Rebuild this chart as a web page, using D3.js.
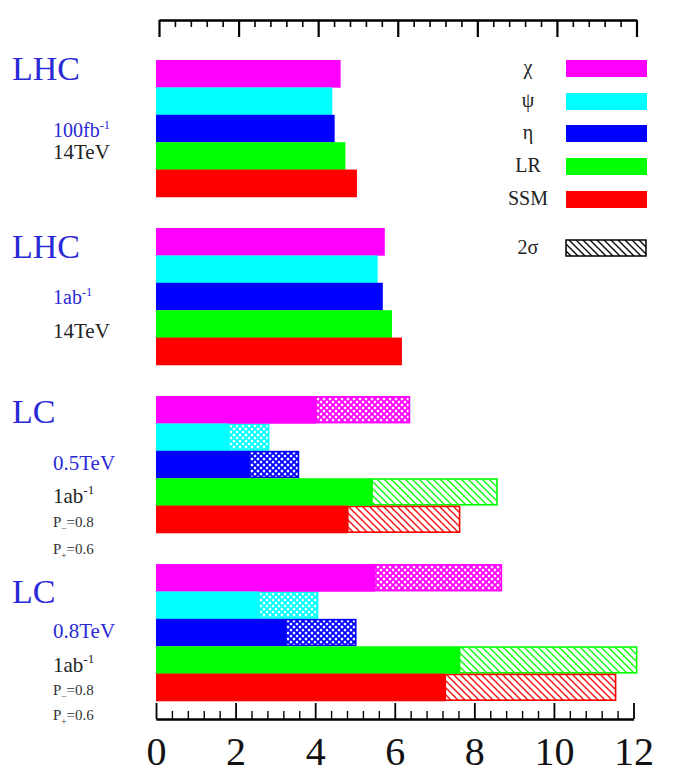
<!DOCTYPE html>
<html>
<head>
<meta charset="utf-8">
<script src="https://cdn.jsdelivr.net/npm/d3@7"></script>
<style>
  body { margin: 0; background: #fff; }
</style>
</head>
<body>
<div id="chart"></div>
<script>
// models and colours
var models = ['χ', 'ψ', 'η', 'LR', 'SSM'];
var colors = ['#ff00ff', '#00ffff', '#0000ff', '#00ff00', '#ff0000'];
var groups = ['LHC 100fb-1', 'LHC 1ab-1', 'LC 0.5TeV', 'LC 0.8TeV'];

// reach (TeV), solid bars
var lhc100 = [4.64, 4.43, 4.49, 4.76, 5.05];
var lhc1ab = [5.75, 5.57, 5.70, 5.93, 6.18];
var lc500 = [4.02, 1.82, 2.34, 5.43, 4.82];
var lc800 = [5.50, 2.59, 3.26, 7.63, 7.27];
// 2 sigma reach, hatched part
var lc500sig = [6.39, 2.85, 3.60, 8.59, 7.65];
var lc800sig = [8.70, 4.08, 5.04, 12.10, 11.57];

var solid = [lhc100, lhc1ab, lc500, lc800];
var hatched = [null, null, lc500sig, lc800sig];

var majorTicks = [0, 2, 4, 6, 8, 10, 12];

var serifFont = '"Liberation Serif"';
var width = 687, height = 778;
var svg = d3.select('#chart').append('svg')
  .attr('width', width)
  .attr('height', height)
  .style('font-family', serifFont);

var x = d3.scaleLinear().domain([0, 12]).range([156, 633.5]);
var yGroup = d3.scaleBand().domain(d3.range(groups.length))
  .range([60, 701]).paddingInner(0.185).paddingOuter(0);
var yBar = d3.scaleBand().domain(d3.range(models.length))
  .range([0, yGroup.bandwidth()]);

var minorTicks = d3.range(0, 12.001, 0.4).filter(function(v) {
  return Math.abs(v / 2 - Math.round(v / 2)) > 1e-6;
});

// patterns
var defs = svg.append('defs');
function crossPattern(id, col) {
  var p = defs.append('pattern').attr('id', id)
    .attr('patternUnits', 'userSpaceOnUse').attr('width', 6).attr('height', 6);
  p.append('rect').attr('width', 6).attr('height', 6).attr('fill', '#fff');
  p.append('path').attr('d', 'M0,0L6,6M6,0L0,6M-1,5L1,7M5,-1L7,1M-1,1L1,-1M5,7L7,5')
    .attr('stroke', col).attr('stroke-width', 1.9);
}
function diagPattern(id, col) {
  var p = defs.append('pattern').attr('id', id)
    .attr('patternUnits', 'userSpaceOnUse').attr('width', 7).attr('height', 7);
  p.append('rect').attr('width', 7).attr('height', 7).attr('fill', '#fff');
  p.append('path').attr('d', 'M-1,-1L8,8M-1,6L1,8M6,-1L8,1')
    .attr('stroke', col).attr('stroke-width', 1.3);
}
colors.forEach(function(c, i) {
  if (i < 3) crossPattern('hatch' + i, c);
  else diagPattern('hatch' + i, c);
});
diagPattern('hatchLegend', '#000');

// bars
groups.forEach(function(g, gi) {
  var layer = svg.append('g').attr('transform', 'translate(0,' + yGroup(gi) + ')');
  if (hatched[gi]) {
    layer.selectAll('rect.sig').data(hatched[gi])
      .enter().append('rect')
      .attr('class', 'sig')
      .attr('x', function(d, i) { return x(solid[gi][i]); })
      .attr('y', function(d, i) { return yBar(i) + 0.8; })
      .attr('width', function(d, i) { return x(d) - x(solid[gi][i]) - 0.8; })
      .attr('height', yBar.bandwidth() - 1.6)
      .attr('fill', function(d, i) { return 'url(#hatch' + i + ')'; })
      .attr('stroke', function(d, i) { return colors[i]; })
      .attr('stroke-width', 1.6);
  }
  layer.selectAll('rect.solid').data(solid[gi])
    .enter().append('rect')
    .attr('class', 'solid')
    .attr('x', x(0))
    .attr('y', function(d, i) { return yBar(i); })
    .attr('width', function(d) { return x(d) - x(0); })
    .attr('height', yBar.bandwidth() + 0.3)
    .attr('fill', function(d, i) { return colors[i]; });
});

// top axis (ticks pointing down)
function styleAxis(g, w) {
  g.select('.domain').attr('stroke-width', 2.2);
  g.selectAll('.tick line').attr('stroke-width', w);
}
var topAxis = svg.append('g').attr('transform', 'translate(3,20)');
topAxis.append('g')
  .call(d3.axisBottom(x).tickValues(minorTicks).tickSize(7).tickSizeOuter(0).tickFormat(''))
  .call(styleAxis, 1.6);
topAxis.append('g')
  .call(d3.axisBottom(x).tickValues(majorTicks).tickSize(17).tickSizeOuter(0).tickFormat(''))
  .call(styleAxis, 2.2);

// bottom axis (ticks pointing up)
var botAxis = svg.append('g').attr('transform', 'translate(0,719)');
botAxis.append('g')
  .call(d3.axisTop(x).tickValues(minorTicks).tickSize(8).tickSizeOuter(0).tickFormat(''))
  .call(styleAxis, 1.4);
botAxis.append('g')
  .call(d3.axisTop(x).tickValues(majorTicks).tickSize(16).tickSizeOuter(0).tickFormat(''))
  .call(styleAxis, 1.8);
botAxis.append('g')
  .call(d3.axisBottom(x).tickValues(majorTicks).tickSize(0).tickPadding(17.5).tickFormat(d3.format('d')))
  .call(function(g) {
    g.attr('font-family', serifFont);
    g.select('.domain').remove();
    g.selectAll('text').attr('font-size', 40).attr('fill', '#111')
      .style('font-family', serifFont);
  });

// group labels
var blue = '#2a2ad6';
function label(parts, xPos, yPos, size, col) {
  var t = svg.append('text').attr('x', xPos).attr('y', yPos)
    .attr('font-size', size).attr('fill', col)
    .style('font-family', serifFont);
  parts.forEach(function(p) {
    var s = t.append('tspan').text(p[0]);
    if (p[1] === 'sup') s.attr('font-size', size * 0.62).attr('dy', -size * 0.42);
    if (p[1] === 'sub') s.attr('font-size', size * 0.62).attr('dy', size * 0.3);
    if (p[1] === 'back') s.attr('dy', -size * 0.3);
  });
}
var g0 = yGroup(0), g1 = yGroup(1), g2 = yGroup(2), g3 = yGroup(3);
label([['LHC']], 12, g0 + 20, 34, blue);
label([['100fb'], ['-1', 'sup']], 53, g0 + 77, 20, blue);
label([['14TeV']], 53, g0 + 99, 21, '#222');

label([['LHC']], 12, g1 + 30, 34, blue);
label([['1ab'], ['-1', 'sup']], 53, g1 + 76, 20, blue);
label([['14TeV']], 53, g1 + 110, 21, '#222');

label([['LC']], 12, g2 + 27, 34, blue);
label([['0.5TeV']], 53, g2 + 74, 21, blue);
label([['1ab'], ['-1', 'sup']], 53, g2 + 107, 21, '#222');
label([['P'], ['−', 'sub'], ['=0.8', 'back']], 53, g2 + 131, 15, '#333');
label([['P'], ['+', 'sub'], ['=0.6', 'back']], 53, g2 + 158, 15, '#333');

label([['LC']], 12, g3 + 39, 34, blue);
label([['0.8TeV']], 53, g3 + 74, 21, blue);
label([['1ab'], ['-1', 'sup']], 53, g3 + 108, 21, '#222');
label([['P'], ['−', 'sub'], ['=0.8', 'back']], 53, g3 + 131, 15, '#333');
label([['P'], ['+', 'sub'], ['=0.6', 'back']], 53, g3 + 156, 15, '#333');

// legend
var legendLabels = models.concat(['2σ']);
var legendY = d3.scaleOrdinal().domain(d3.range(6)).range([60, 93, 125, 158, 191, 240]);
var legend = svg.append('g');
legend.selectAll('rect').data(legendLabels)
  .enter().append('rect')
  .attr('x', 566)
  .attr('y', function(d, i) { return legendY(i); })
  .attr('width', function(d, i) { return i < 5 ? 81 : 80; })
  .attr('height', function(d, i) { return i < 5 ? 17 : 16; })
  .attr('fill', function(d, i) { return i < 5 ? colors[i] : 'url(#hatchLegend)'; })
  .attr('stroke', function(d, i) { return i < 5 ? 'none' : '#000'; })
  .attr('stroke-width', 1.5);
legend.selectAll('text').data(legendLabels)
  .enter().append('text')
  .attr('x', 528)
  .attr('y', function(d, i) { return legendY(i) + 14; })
  .attr('text-anchor', 'middle')
  .attr('font-size', 20)
  .attr('fill', '#222')
  .style('font-family', serifFont)
  .text(function(d) { return d; });
</script>
</body>
</html>
